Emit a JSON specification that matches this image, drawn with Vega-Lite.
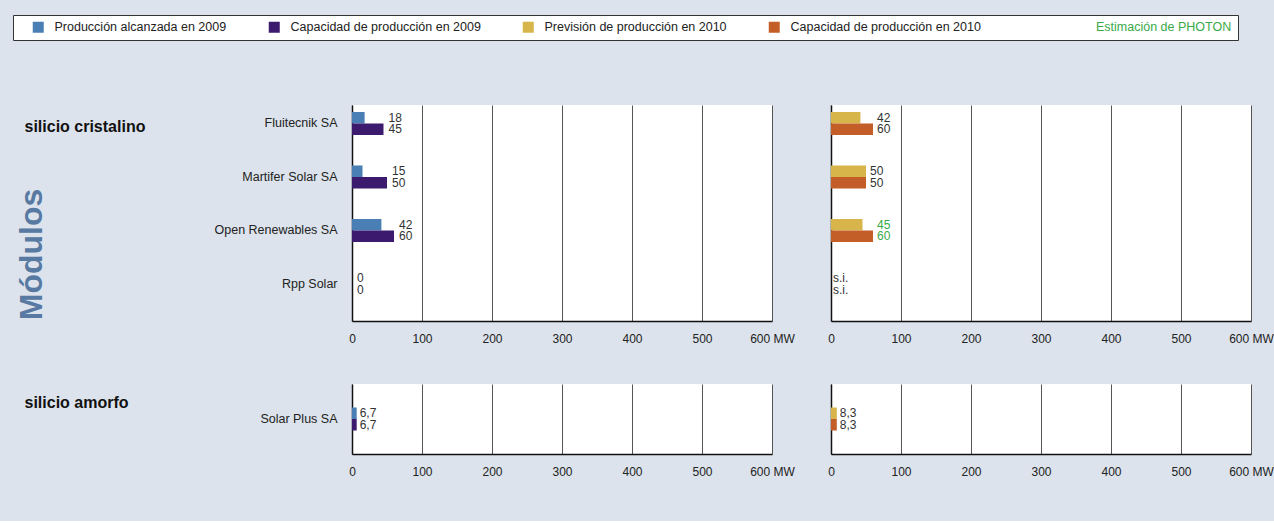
{
  "$schema": "https://vega.github.io/schema/vega-lite/v6.json",
  "background": "#dce3ec",
  "padding": {"left": 12, "top": 14, "right": 0, "bottom": 44},
  "autosize": {"type": "pad"},
  "data": {
    "values": [
      {"sector": "silicio cristalino", "company": "Fluitecnik SA", "year": 2009, "series": "Producción alcanzada en 2009", "value": 18, "est": false},
      {"sector": "silicio cristalino", "company": "Fluitecnik SA", "year": 2009, "series": "Capacidad de producción en 2009", "value": 45, "est": false},
      {"sector": "silicio cristalino", "company": "Fluitecnik SA", "year": 2010, "series": "Previsión de producción en 2010", "value": 42, "est": false},
      {"sector": "silicio cristalino", "company": "Fluitecnik SA", "year": 2010, "series": "Capacidad de producción en 2010", "value": 60, "est": false},
      {"sector": "silicio cristalino", "company": "Martifer Solar SA", "year": 2009, "series": "Producción alcanzada en 2009", "value": 15, "est": false},
      {"sector": "silicio cristalino", "company": "Martifer Solar SA", "year": 2009, "series": "Capacidad de producción en 2009", "value": 50, "est": false},
      {"sector": "silicio cristalino", "company": "Martifer Solar SA", "year": 2010, "series": "Previsión de producción en 2010", "value": 50, "est": false},
      {"sector": "silicio cristalino", "company": "Martifer Solar SA", "year": 2010, "series": "Capacidad de producción en 2010", "value": 50, "est": false},
      {"sector": "silicio cristalino", "company": "Open Renewables SA", "year": 2009, "series": "Producción alcanzada en 2009", "value": 42, "est": false},
      {"sector": "silicio cristalino", "company": "Open Renewables SA", "year": 2009, "series": "Capacidad de producción en 2009", "value": 60, "est": false},
      {"sector": "silicio cristalino", "company": "Open Renewables SA", "year": 2010, "series": "Previsión de producción en 2010", "value": 45, "est": true},
      {"sector": "silicio cristalino", "company": "Open Renewables SA", "year": 2010, "series": "Capacidad de producción en 2010", "value": 60, "est": true},
      {"sector": "silicio cristalino", "company": "Rpp Solar", "year": 2009, "series": "Producción alcanzada en 2009", "value": 0, "est": false},
      {"sector": "silicio cristalino", "company": "Rpp Solar", "year": 2009, "series": "Capacidad de producción en 2009", "value": 0, "est": false},
      {"sector": "silicio cristalino", "company": "Rpp Solar", "year": 2010, "series": "Previsión de producción en 2010", "value": null, "est": false},
      {"sector": "silicio cristalino", "company": "Rpp Solar", "year": 2010, "series": "Capacidad de producción en 2010", "value": null, "est": false},
      {"sector": "silicio amorfo", "company": "Solar Plus SA", "year": 2009, "series": "Producción alcanzada en 2009", "value": 6.7, "est": false},
      {"sector": "silicio amorfo", "company": "Solar Plus SA", "year": 2009, "series": "Capacidad de producción en 2009", "value": 6.7, "est": false},
      {"sector": "silicio amorfo", "company": "Solar Plus SA", "year": 2010, "series": "Previsión de producción en 2010", "value": 8.3, "est": false},
      {"sector": "silicio amorfo", "company": "Solar Plus SA", "year": 2010, "series": "Capacidad de producción en 2010", "value": 8.3, "est": false}
    ]
  },
  "columns": 2,
  "spacing": {"row": 63, "column": 59},
  "bounds": "flush",
  "resolve": {"scale": {"x": "independent", "y": "independent", "yOffset": "independent", "color": "shared"}},
  "concat": [
    {
      "width": 420,
      "height": 216,
      "transform": [
        {"filter": "datum.sector === 'silicio cristalino' && datum.year === 2009"},
        {"joinaggregate": [{"op": "max", "field": "value", "as": "mx"}], "groupby": ["company"]}
      ],
      "encoding": {
        "y": {
          "field": "company", "type": "nominal",
          "sort": ["Fluitecnik SA", "Martifer Solar SA", "Open Renewables SA", "Rpp Solar"],
          "scale": {"paddingInner": 0.57, "paddingOuter": 0.304, "align": 0.215},
          "axis": {
            "labelPadding": 15, "labelFontSize": 12.5, "grid": false,
            "title": "Módulos", "titleX": -321, "titleY": 149, "titleAngle": 270,
            "titleAlign": "center", "titleBaseline": "middle",
            "titleFont": "Liberation Sans", "titleFontSize": 32, "titleFontWeight": "bold", "titleColor": "#5779a2"
          }
        },
        "yOffset": {
          "field": "series", "type": "nominal",
          "sort": ["Producción alcanzada en 2009", "Capacidad de producción en 2009"],
          "scale": {"paddingInner": 0, "paddingOuter": 0}
        }
      },
      "layer": [
        {
          "mark": {"type": "bar"},
          "encoding": {
            "x": {
              "field": "value", "type": "quantitative",
              "scale": {"domain": [0, 600], "nice": false},
              "axis": {
                "values": [0, 100, 200, 300, 400, 500, 600], "grid": true,
                "labelExpr": "datum.value === 600 ? '600 MW' : datum.label",
                "title": "silicio cristalino", "titleX": -328, "titleY": -190, "titleAngle": 0,
                "titleAlign": "left", "titleBaseline": "alphabetic",
                "titleFont": "Liberation Sans", "titleFontSize": 16, "titleFontWeight": "bold", "titleColor": "#111"
              }
            },
            "color": {
              "field": "series", "type": "nominal",
              "scale": {
                "domain": ["Producción alcanzada en 2009", "Capacidad de producción en 2009", "Previsión de producción en 2010", "Capacidad de producción en 2010"],
                "range": ["#4a7fb6", "#3c1a6e", "#d7b54a", "#c45e29"]
              },
              "legend": {
                "orient": "none", "legendX": -339, "legendY": -90,
                "direction": "horizontal", "columns": 4, "gridAlign": "none",
                "title": "Estimación de PHOTON", "titleOrient": "right", "titleAnchor": "middle", "titleBaseline": "middle", "titlePadding": 115,
                "titleColor": "#3aaa48", "titleFontWeight": "normal", "titleFontSize": 12.5, "titleFont": "Liberation Sans",
                "symbolType": "square", "symbolSize": 121, "symbolStrokeWidth": 0, "symbolOffset": 13,
                "labelFontSize": 12.5, "labelFont": "Liberation Sans", "labelColor": "#222", "labelOffset": 10, "labelLimit": 400,
                "columnPadding": 28, "padding": 6, "strokeColor": "#333", "fillColor": "white"
              }
            }
          }
        },
        {
          "mark": {"type": "text", "align": "left", "baseline": "middle", "dx": 5, "fontSize": 12},
          "encoding": {
            "x": {
              "field": "mx", "type": "quantitative",
              "scale": {"domain": [0, 600], "nice": false},
              "axis": {
                "values": [0, 100, 200, 300, 400, 500, 600], "grid": true,
                "labelExpr": "datum.value === 600 ? '600 MW' : datum.label",
                "title": "silicio cristalino", "titleX": -328, "titleY": -190, "titleAngle": 0,
                "titleAlign": "left", "titleBaseline": "alphabetic",
                "titleFont": "Liberation Sans", "titleFontSize": 16, "titleFontWeight": "bold", "titleColor": "#111"
              }
            },
            "text": {"field": "value", "type": "quantitative", "format": ".1~f"},
            "color": {"condition": {"test": "datum.est", "value": "#3aaa48"}, "value": "#333"}
          }
        }
      ]
    },
    {
      "width": 420,
      "height": 216,
      "transform": [
        {"filter": "datum.sector === 'silicio cristalino' && datum.year === 2010"},
        {"joinaggregate": [{"op": "max", "field": "value", "as": "mx"}], "groupby": ["company"]}
      ],
      "encoding": {
        "y": {
          "field": "company", "type": "nominal",
          "sort": ["Fluitecnik SA", "Martifer Solar SA", "Open Renewables SA", "Rpp Solar"],
          "scale": {"paddingInner": 0.57, "paddingOuter": 0.304, "align": 0.215},
          "axis": {"labels": false, "grid": false, "title": null}
        },
        "yOffset": {
          "field": "series", "type": "nominal",
          "sort": ["Previsión de producción en 2010", "Capacidad de producción en 2010"],
          "scale": {"paddingInner": 0, "paddingOuter": 0}
        }
      },
      "layer": [
        {
          "mark": {"type": "bar"},
          "encoding": {
            "x": {
              "field": "value", "type": "quantitative",
              "scale": {"domain": [0, 600], "nice": false},
              "axis": {
                "values": [0, 100, 200, 300, 400, 500, 600], "grid": true, "title": null,
                "labelExpr": "datum.value === 600 ? '600 MW' : datum.label"
              }
            },
            "color": {
              "field": "series", "type": "nominal",
              "scale": {
                "domain": ["Producción alcanzada en 2009", "Capacidad de producción en 2009", "Previsión de producción en 2010", "Capacidad de producción en 2010"],
                "range": ["#4a7fb6", "#3c1a6e", "#d7b54a", "#c45e29"]
              },
              "legend": {
                "orient": "none", "legendX": -339, "legendY": -90,
                "direction": "horizontal", "columns": 4, "gridAlign": "none",
                "title": "Estimación de PHOTON", "titleOrient": "right", "titleAnchor": "middle", "titleBaseline": "middle", "titlePadding": 115,
                "titleColor": "#3aaa48", "titleFontWeight": "normal", "titleFontSize": 12.5, "titleFont": "Liberation Sans",
                "symbolType": "square", "symbolSize": 121, "symbolStrokeWidth": 0, "symbolOffset": 13,
                "labelFontSize": 12.5, "labelFont": "Liberation Sans", "labelColor": "#222", "labelOffset": 10, "labelLimit": 400,
                "columnPadding": 28, "padding": 6, "strokeColor": "#333", "fillColor": "white"
              }
            }
          }
        },
        {
          "mark": {"type": "text", "align": "left", "baseline": "middle", "dx": 4, "fontSize": 12},
          "encoding": {
            "x": {
              "field": "mx", "type": "quantitative",
              "scale": {"domain": [0, 600], "nice": false},
              "axis": {
                "values": [0, 100, 200, 300, 400, 500, 600], "grid": true, "title": null,
                "labelExpr": "datum.value === 600 ? '600 MW' : datum.label"
              }
            },
            "text": {"field": "value", "type": "quantitative", "format": ".1~f"},
            "color": {"condition": {"test": "datum.est", "value": "#3aaa48"}, "value": "#333"}
          }
        },
        {
          "transform": [{"filter": "datum.value === null"}],
          "mark": {"type": "text", "align": "left", "baseline": "middle", "dx": 2, "fontSize": 12, "color": "#333"},
          "encoding": {
            "x": {"datum": 0, "type": "quantitative", "scale": {"domain": [0, 600], "nice": false}},
            "text": {"value": "s.i."}
          }
        }
      ]
    },
    {
      "width": 420,
      "height": 70,
      "transform": [
        {"filter": "datum.sector === 'silicio amorfo' && datum.year === 2009"},
        {"joinaggregate": [{"op": "max", "field": "value", "as": "mx"}], "groupby": ["company"]}
      ],
      "encoding": {
        "y": {
          "field": "company", "type": "nominal",
          "scale": {"paddingInner": 0.57, "paddingOuter": 0.439, "align": 0.5},
          "axis": {"labelPadding": 15, "labelFontSize": 12.5, "grid": false, "title": null}
        },
        "yOffset": {
          "field": "series", "type": "nominal",
          "sort": ["Producción alcanzada en 2009", "Capacidad de producción en 2009"],
          "scale": {"paddingInner": 0, "paddingOuter": 0}
        }
      },
      "layer": [
        {
          "mark": {"type": "bar"},
          "encoding": {
            "x": {
              "field": "value", "type": "quantitative",
              "scale": {"domain": [0, 600], "nice": false},
              "axis": {
                "values": [0, 100, 200, 300, 400, 500, 600], "grid": true,
                "labelExpr": "datum.value === 600 ? '600 MW' : datum.label",
                "title": "silicio amorfo", "titleX": -328, "titleY": -47, "titleAngle": 0,
                "titleAlign": "left", "titleBaseline": "alphabetic",
                "titleFont": "Liberation Sans", "titleFontSize": 16, "titleFontWeight": "bold", "titleColor": "#111"
              }
            },
            "color": {
              "field": "series", "type": "nominal",
              "scale": {
                "domain": ["Producción alcanzada en 2009", "Capacidad de producción en 2009", "Previsión de producción en 2010", "Capacidad de producción en 2010"],
                "range": ["#4a7fb6", "#3c1a6e", "#d7b54a", "#c45e29"]
              },
              "legend": {
                "orient": "none", "legendX": -339, "legendY": -90,
                "direction": "horizontal", "columns": 4, "gridAlign": "none",
                "title": "Estimación de PHOTON", "titleOrient": "right", "titleAnchor": "middle", "titleBaseline": "middle", "titlePadding": 115,
                "titleColor": "#3aaa48", "titleFontWeight": "normal", "titleFontSize": 12.5, "titleFont": "Liberation Sans",
                "symbolType": "square", "symbolSize": 121, "symbolStrokeWidth": 0, "symbolOffset": 13,
                "labelFontSize": 12.5, "labelFont": "Liberation Sans", "labelColor": "#222", "labelOffset": 10, "labelLimit": 400,
                "columnPadding": 28, "padding": 6, "strokeColor": "#333", "fillColor": "white"
              }
            }
          }
        },
        {
          "mark": {"type": "text", "align": "left", "baseline": "middle", "dx": 3, "fontSize": 12},
          "encoding": {
            "x": {
              "field": "mx", "type": "quantitative",
              "scale": {"domain": [0, 600], "nice": false},
              "axis": {
                "values": [0, 100, 200, 300, 400, 500, 600], "grid": true,
                "labelExpr": "datum.value === 600 ? '600 MW' : datum.label",
                "title": "silicio amorfo", "titleX": -328, "titleY": -47, "titleAngle": 0,
                "titleAlign": "left", "titleBaseline": "alphabetic",
                "titleFont": "Liberation Sans", "titleFontSize": 16, "titleFontWeight": "bold", "titleColor": "#111"
              }
            },
            "text": {"field": "value", "type": "quantitative", "format": ".1~f"},
            "color": {"condition": {"test": "datum.est", "value": "#3aaa48"}, "value": "#333"}
          }
        }
      ]
    },
    {
      "width": 420,
      "height": 70,
      "transform": [
        {"filter": "datum.sector === 'silicio amorfo' && datum.year === 2010"},
        {"joinaggregate": [{"op": "max", "field": "value", "as": "mx"}], "groupby": ["company"]}
      ],
      "encoding": {
        "y": {
          "field": "company", "type": "nominal",
          "scale": {"paddingInner": 0.57, "paddingOuter": 0.439, "align": 0.5},
          "axis": {"labels": false, "grid": false, "title": null}
        },
        "yOffset": {
          "field": "series", "type": "nominal",
          "sort": ["Previsión de producción en 2010", "Capacidad de producción en 2010"],
          "scale": {"paddingInner": 0, "paddingOuter": 0}
        }
      },
      "layer": [
        {
          "mark": {"type": "bar"},
          "encoding": {
            "x": {
              "field": "value", "type": "quantitative",
              "scale": {"domain": [0, 600], "nice": false},
              "axis": {
                "values": [0, 100, 200, 300, 400, 500, 600], "grid": true, "title": null,
                "labelExpr": "datum.value === 600 ? '600 MW' : datum.label"
              }
            },
            "color": {
              "field": "series", "type": "nominal",
              "scale": {
                "domain": ["Producción alcanzada en 2009", "Capacidad de producción en 2009", "Previsión de producción en 2010", "Capacidad de producción en 2010"],
                "range": ["#4a7fb6", "#3c1a6e", "#d7b54a", "#c45e29"]
              },
              "legend": {
                "orient": "none", "legendX": -339, "legendY": -90,
                "direction": "horizontal", "columns": 4, "gridAlign": "none",
                "title": "Estimación de PHOTON", "titleOrient": "right", "titleAnchor": "middle", "titleBaseline": "middle", "titlePadding": 115,
                "titleColor": "#3aaa48", "titleFontWeight": "normal", "titleFontSize": 12.5, "titleFont": "Liberation Sans",
                "symbolType": "square", "symbolSize": 121, "symbolStrokeWidth": 0, "symbolOffset": 13,
                "labelFontSize": 12.5, "labelFont": "Liberation Sans", "labelColor": "#222", "labelOffset": 10, "labelLimit": 400,
                "columnPadding": 28, "padding": 6, "strokeColor": "#333", "fillColor": "white"
              }
            }
          }
        },
        {
          "mark": {"type": "text", "align": "left", "baseline": "middle", "dx": 3, "fontSize": 12},
          "encoding": {
            "x": {
              "field": "mx", "type": "quantitative",
              "scale": {"domain": [0, 600], "nice": false},
              "axis": {
                "values": [0, 100, 200, 300, 400, 500, 600], "grid": true, "title": null,
                "labelExpr": "datum.value === 600 ? '600 MW' : datum.label"
              }
            },
            "text": {"field": "value", "type": "quantitative", "format": ".1~f"},
            "color": {"condition": {"test": "datum.est", "value": "#3aaa48"}, "value": "#333"}
          }
        }
      ]
    }
  ],
  "config": {
    "view": {"fill": "white", "stroke": null},
    "font": "Liberation Sans",
    "text": {"font": "Liberation Sans"},
    "axis": {
      "labelFont": "Liberation Sans", "labelFontSize": 12, "labelColor": "#222",
      "labelPadding": 12, "labelFlush": false, "labelOverlap": false,
      "ticks": false, "domainColor": "#111", "domainWidth": 1.5,
      "gridColor": "#555", "gridWidth": 1
    },
    "locale": {"number": {"decimal": ",", "thousands": ".", "grouping": [3], "currency": ["", " €"]}}
  }
}
